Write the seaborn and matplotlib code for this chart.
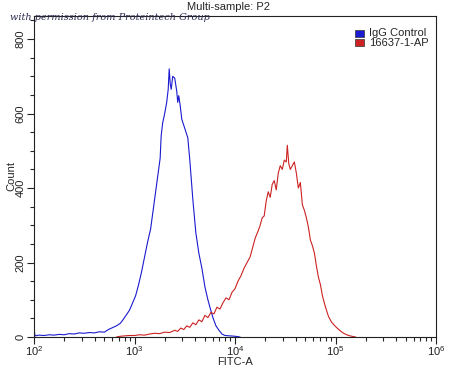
import numpy as np
import seaborn as sns
import matplotlib.pyplot as plt
from matplotlib.ticker import LogLocator, LogFormatterMathtext, MultipleLocator, NullFormatter
from matplotlib.patches import Rectangle

# histogram data (x as log10 of FITC-A, y as count)
igg_log = [2.00, 2.01, 2.05, 2.10, 2.15, 2.20, 2.25, 2.30, 2.35, 2.40, 2.45, 2.50, 2.55, 2.60,
           2.65, 2.70, 2.74, 2.78, 2.82, 2.86, 2.89, 2.92, 2.95, 2.98, 3.01, 3.04, 3.07, 3.10,
           3.13, 3.16, 3.18, 3.20, 3.22, 3.24, 3.255, 3.265, 3.28, 3.30, 3.32, 3.335, 3.345,
           3.355, 3.365, 3.38, 3.40, 3.42, 3.43, 3.44, 3.455, 3.47, 3.50, 3.53, 3.55, 3.58,
           3.61, 3.64, 3.67, 3.70, 3.73, 3.75, 3.78, 3.81, 3.84, 3.87, 3.90, 3.95, 4.00, 4.05]
igg_count = [22, 3, 5, 4, 6, 5, 7, 6, 9, 8, 11, 10, 12, 11, 14, 13, 20, 25, 30, 37, 48, 60,
             72, 91, 110, 140, 175, 215, 255, 290, 330, 370, 410, 450, 480, 540, 575, 600,
             630, 665, 720, 680, 665, 700, 695, 660, 630, 648, 620, 585, 560, 535, 475, 370,
             280, 225, 185, 135, 100, 80, 52, 30, 18, 8, 4, 3, 2, 0]

ab_log = [2.82, 2.86, 2.90, 2.95, 3.00, 3.05, 3.10, 3.15, 3.20, 3.25, 3.30, 3.35, 3.40, 3.43,
          3.46, 3.49, 3.52, 3.55, 3.58, 3.61, 3.64, 3.67, 3.70, 3.73, 3.76, 3.79, 3.82, 3.85,
          3.88, 3.91, 3.94, 3.97, 4.00, 4.03, 4.06, 4.09, 4.12, 4.15, 4.18, 4.20, 4.23, 4.25,
          4.27, 4.29, 4.31, 4.33, 4.35, 4.37, 4.39, 4.41, 4.43, 4.45, 4.47, 4.49, 4.51, 4.52,
          4.535, 4.55, 4.57, 4.59, 4.61, 4.63, 4.65, 4.67, 4.69, 4.71, 4.73, 4.75, 4.77, 4.79,
          4.81, 4.83, 4.85, 4.87, 4.90, 4.93, 4.96, 5.00, 5.04, 5.08, 5.12, 5.16, 5.20]
ab_count = [0, 2, 3, 4, 4, 6, 5, 8, 10, 9, 13, 12, 18, 15, 24, 20, 30, 26, 38, 33, 46, 41,
            58, 52, 66, 62, 80, 75, 92, 105, 100, 120, 130, 150, 165, 185, 200, 215, 245,
            265, 285, 300, 320, 325, 365, 390, 375, 410, 420, 395, 440, 460, 450, 475, 470,
            515, 465, 450, 460, 470, 440, 400, 415, 355, 340, 320, 295, 260, 245, 225, 190,
            160, 140, 110, 80, 55, 40, 28, 18, 10, 5, 2, 0]

labels = ['IgG Control', '16637-1-AP']
colors = ['#1a1ad0', '#cc2222']

sns.set_style('white')
plt.rcParams['font.family'] = ['Liberation Sans', 'DejaVu Sans']
plt.rcParams['mathtext.default'] = 'regular'

fig = plt.figure(figsize=(4.5, 3.7), dpi=100)
ax = fig.add_axes([0.0756, 0.0892, 0.8934, 0.8676])

sns.lineplot(x=10 ** np.array(igg_log), y=igg_count, ax=ax, color=colors[0], lw=0.8, sort=False)
sns.lineplot(x=10 ** np.array(ab_log), y=ab_count, ax=ax, color=colors[1], lw=0.8, sort=False)

ax.set_xscale('log')
ax.set_xlim(1e2, 1e6)
ax.set_ylim(0, 862)
ax.xaxis.set_major_locator(LogLocator(base=10))
ax.xaxis.set_major_formatter(LogFormatterMathtext())
ax.xaxis.set_minor_locator(LogLocator(base=10, subs=np.arange(2, 10)))
ax.xaxis.set_minor_formatter(NullFormatter())
ax.yaxis.set_major_locator(MultipleLocator(200))
ax.yaxis.set_minor_locator(MultipleLocator(50))

ax.tick_params(axis='both', which='major', direction='out', length=5, width=0.8,
               labelsize=8, colors='#222222', bottom=True, left=True)
ax.tick_params(axis='x', which='major', pad=0.5)
ax.tick_params(axis='y', which='major', pad=1)
ax.tick_params(axis='both', which='minor', direction='out', length=3, width=0.8,
               bottom=True, left=True)
for lab in ax.get_yticklabels():
    lab.set_rotation(90)
    lab.set_va('center')
for s in ax.spines.values():
    s.set_color('#222222')
    s.set_linewidth(0.8)

ax.set_xlabel('FITC-A', fontsize=8)
ax.set_ylabel('Count', fontsize=8)
ax.xaxis.set_label_coords(0.5, -0.062)
ax.yaxis.set_label_coords(-0.045, 0.5)
fig.text(0.507, 0.982, 'Multi-sample: P2', ha='center', va='center', fontsize=8)

# legend squares
for i, (lab, c) in enumerate(zip(labels, colors)):
    y = 0.9 - i * 0.0245
    fig.patches.append(Rectangle((0.789, y), 0.019, 0.019, transform=fig.transFigure,
                                 facecolor=c, edgecolor='#333333', lw=0.5))
    fig.text(0.821, y + 0.0095, lab, va='center', ha='left', fontsize=8)

fig.text(0.022, 0.954, 'with permission from Proteintech Group', fontsize=7,
         style='italic', family='DejaVu Serif', color='#2a2a50', va='center', ha='left')

fig.savefig('out.png', dpi=100)
